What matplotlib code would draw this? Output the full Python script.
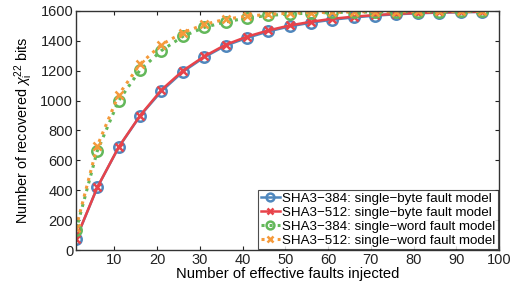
import matplotlib
matplotlib.use("Agg")
import matplotlib.pyplot as plt

plt.rcParams['font.family'] = ['Liberation Sans', 'DejaVu Sans']
plt.rcParams['mathtext.fontset'] = 'custom'
plt.rcParams['mathtext.rm'] = 'Liberation Sans'
plt.rcParams['mathtext.it'] = 'Liberation Sans:italic'

faults = [1, 6, 11, 16, 21, 26, 31, 36, 41, 46, 51, 56, 61, 66, 71, 76, 81, 86, 91, 96]
sha384_byte = [72, 420, 688, 898, 1063, 1193, 1290, 1368, 1420, 1463, 1497, 1522, 1542, 1557, 1569, 1578, 1585, 1589, 1592, 1594]
sha512_byte = [75, 420, 690, 900, 1072, 1200, 1296, 1374, 1428, 1470, 1503, 1528, 1548, 1562, 1573, 1581, 1587, 1591, 1593, 1595]
sha384_word = [132, 665, 1000, 1205, 1335, 1430, 1490, 1527, 1553, 1570, 1580, 1586, 1590, 1592, 1594, 1595, 1596, 1596, 1597, 1597]
sha512_word = [148, 698, 1040, 1245, 1375, 1455, 1510, 1545, 1565, 1578, 1585, 1589, 1592, 1594, 1595, 1596, 1597, 1597, 1597, 1597]

labels = ["SHA3\u2212384: single\u2212byte fault model",
          "SHA3\u2212512: single\u2212byte fault model",
          "SHA3\u2212384: single\u2212word fault model",
          "SHA3\u2212512: single\u2212word fault model"]

fig = plt.figure(figsize=(5.14, 2.85), dpi=100)
ax = fig.add_axes([76/514, 1-250/285, (499-76)/514, (250-11)/285])

blue = '#4f87bd'
red = '#e8434a'
green = '#63b85a'
orange = '#f59a3a'

ax.plot(faults, sha384_byte, '-', color=blue, lw=1.8, marker='o', ms=7.5, mfc='none', mew=1.8, label=labels[0])
ax.plot(faults, sha512_byte, '-', color=red, lw=1.8, marker='x', ms=6, mew=1.8, label=labels[1])
ax.plot(faults, sha384_word, ':', color=green, lw=2.2, marker='o', ms=7.5, mfc='none', mew=1.8, label=labels[2])
ax.plot(faults, sha512_word, ':', color=orange, lw=2.2, marker='x', ms=6, mew=1.8, label=labels[3])

ax.set_xlim(1, 100)
ax.set_ylim(0, 1600)
ax.set_xticks(range(10, 101, 10))
ax.set_yticks(range(0, 1601, 200))
ax.tick_params(direction='in', top=True, right=True, labelsize=10.5, length=3, colors='#222222', pad=2)
for s in ax.spines.values():
    s.set_linewidth(1.0)
    s.set_color('#333333')

ax.set_xlabel("Number of effective faults injected", fontsize=10.6, labelpad=0)
ax.set_ylabel(r"Number of recovered $\chi_{\mathrm{i}}^{22}$ bits", fontsize=10.4, labelpad=4)

leg = ax.legend(loc='lower right', fontsize=9.6, frameon=True, fancybox=False,
                handlelength=1.4, handletextpad=0.2, borderpad=0.2, labelspacing=0.12,
                borderaxespad=0.05, markerscale=0.75)
leg.get_frame().set_edgecolor('#222222')
leg.get_frame().set_linewidth(0.8)

fig.savefig("out.png", dpi=100)
